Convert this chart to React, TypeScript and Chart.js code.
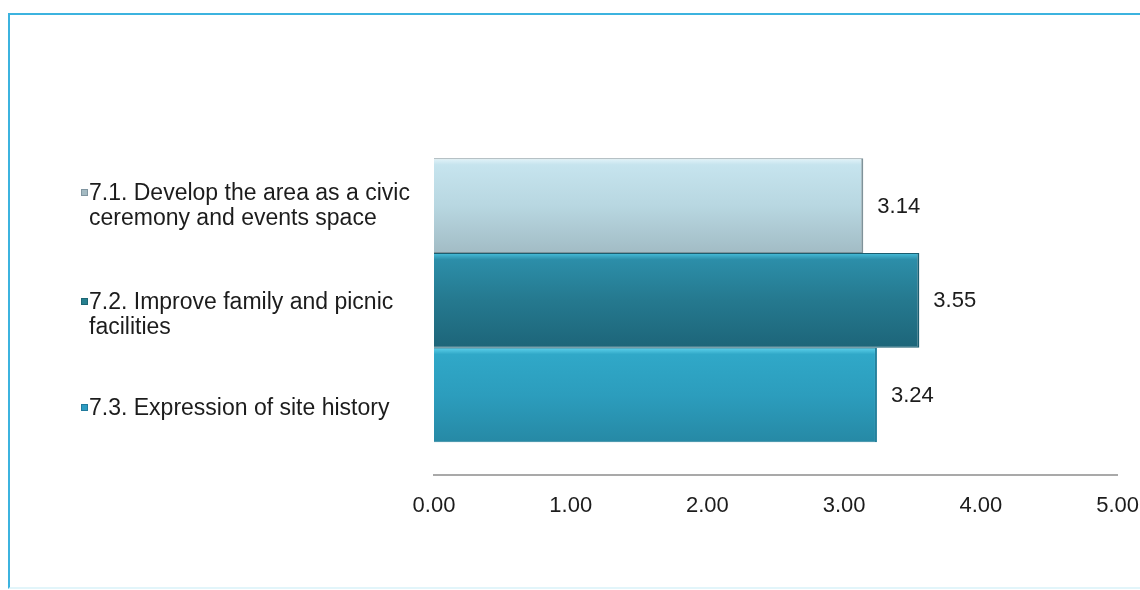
import React, { useEffect, useRef } from "react";
import { Chart, registerables } from "chart.js";

Chart.register(...registerables);

// ---- data ----
const categories = [""];
const seriesLabels = [
  "7.1. Develop the area as a civic ceremony and events space",
  "7.2. Improve family and picnic facilities",
  "7.3. Expression of site history",
];
const legendLines = [
  ["7.1. Develop the area as a civic", "ceremony and events space"],
  ["7.2. Improve family and picnic", "facilities"],
  ["7.3. Expression of site history"],
];
const values71 = [3.14];
const values72 = [3.55];
const values73 = [3.24];
const xMin = 0;
const xMax = 5;
const xStep = 1;

// ---- styles ----
const FONT = '"Liberation Sans", Arial, Helvetica, sans-serif';
const CATEGORY_PCT = 0.815;
const CANVAS_W = 1157;
const CANVAS_H = 590;
const gradientStops = [
  ["#e4f4f9", "#c6e4ee", "#b8d7e1", "#a2bcc5"],
  ["#48bfdb", "#2c8ea9", "#25798f", "#1d6579"],
  ["#5fd2ec", "#30a8c8", "#2c9dbd", "#2689a5"],
];
const borderColors = ["#7f9299", "#1b5e70", "#25819c"];
const markerColors = ["#a4bac2", "#27808f", "#2d9cc2"];
const markerBorders = ["#8095a0", "#1d6674", "#217a9c"];
const LEGEND_TOPS = [180, 289, 395];

function barGradient(ctx: any, stops: string[]) {
  const chart = ctx.chart;
  const ys = chart.scales && chart.scales.y;
  if (!ys || !chart.chartArea || !isFinite(ys.height)) return stops[1];
  const n = chart.data.datasets.length;
  const catW = ys.height / chart.data.labels.length;
  const full = catW * CATEGORY_PCT;
  const center = ys.getPixelForValue(ctx.dataIndex);
  const size = full / n;
  const top = center - full / 2 + ctx.datasetIndex * size;
  const g = chart.ctx.createLinearGradient(0, top, 0, top + size);
  g.addColorStop(0, stops[0]);
  g.addColorStop(0.07, stops[1]);
  g.addColorStop(0.5, stops[2]);
  g.addColorStop(1, stops[3]);
  return g;
}

const valueLabels = {
  id: "valueLabels",
  afterDatasetsDraw(chart: any) {
    const { ctx } = chart;
    ctx.save();
    ctx.font = `22px ${FONT}`;
    ctx.fillStyle = "#1c1c1c";
    ctx.textAlign = "left";
    ctx.textBaseline = "middle";
    chart.data.datasets.forEach((ds: any, i: number) => {
      const meta = chart.getDatasetMeta(i);
      meta.data.forEach((el: any, j: number) => {
        const v = ds.data[j];
        if (v == null) return;
        ctx.fillText(Number(v).toFixed(2), el.x + 14, el.y + 1);
      });
    });
    ctx.restore();
  },
};

export default function App() {
  const ref = useRef<HTMLCanvasElement>(null);

  useEffect(() => {
    if (!ref.current) return;
    const seriesValues = [values71, values72, values73];
    const chart = new Chart(ref.current, {
      type: "bar",
      data: {
        labels: categories,
        datasets: seriesValues.map((vals, i) => ({
          label: seriesLabels[i],
          data: vals,
          backgroundColor: (c: any) => barGradient(c, gradientStops[i]),
          borderColor: borderColors[i],
          borderWidth: { top: 1, right: 2, bottom: 1, left: 0 },
          borderSkipped: "start",
          barPercentage: 1,
          categoryPercentage: CATEGORY_PCT,
        })),
      },
      options: {
        indexAxis: "y",
        animation: false,
        responsive: false,
        devicePixelRatio: 1,
        layout: { padding: { left: 434, right: 3, top: 126, bottom: 53 } },
        plugins: {
          legend: { display: false },
          tooltip: { enabled: false },
        },
        scales: {
          y: {
            type: "category",
            display: false,
            grid: { display: false },
          },
          x: {
            type: "linear",
            min: xMin,
            max: xMax,
            grid: { display: false, drawTicks: false },
            border: { display: true, color: "#a9a9a9", width: 2 },
            ticks: {
              stepSize: xStep,
              padding: 18,
              color: "#1c1c1c",
              font: { family: FONT, size: 22 },
              callback: (v: any) => Number(v).toFixed(2),
              maxRotation: 0,
            },
          },
        },
      },
      plugins: [valueLabels],
    } as any);
    return () => chart.destroy();
  }, []);

  return (
    <div
      style={{
        position: "absolute",
        left: 0,
        top: 0,
        width: 1140,
        height: 590,
        overflow: "hidden",
        background: "#ffffff",
      }}
    >
      <div
        style={{
          position: "absolute",
          left: 8,
          top: 13,
          width: 1140,
          height: 572,
          borderLeft: "2px solid #3cb3df",
          borderTop: "2px solid #3cb3df",
          borderBottom: "2px solid #e2f5fa",
        }}
      />
      <canvas
        ref={ref}
        width={CANVAS_W}
        height={CANVAS_H}
        style={{ position: "absolute", left: 0, top: 0, width: CANVAS_W, height: CANVAS_H }}
      />
      {legendLines.map((lines, i) => (
        <div
          key={i}
          style={{
            position: "absolute",
            left: 81,
            top: LEGEND_TOPS[i],
            fontFamily: FONT,
            fontSize: 23,
            lineHeight: "25px",
            color: "#1c1c1c",
            whiteSpace: "nowrap",
          }}
        >
          <span
            style={{
              position: "absolute",
              left: 0,
              top: 9,
              width: 5,
              height: 5,
              background: markerColors[i],
              border: `1px solid ${markerBorders[i]}`,
            }}
          />
          <div style={{ marginLeft: 8 }}>
            {lines.map((ln, k) => (
              <div key={k}>{ln}</div>
            ))}
          </div>
        </div>
      ))}
    </div>
  );
}
